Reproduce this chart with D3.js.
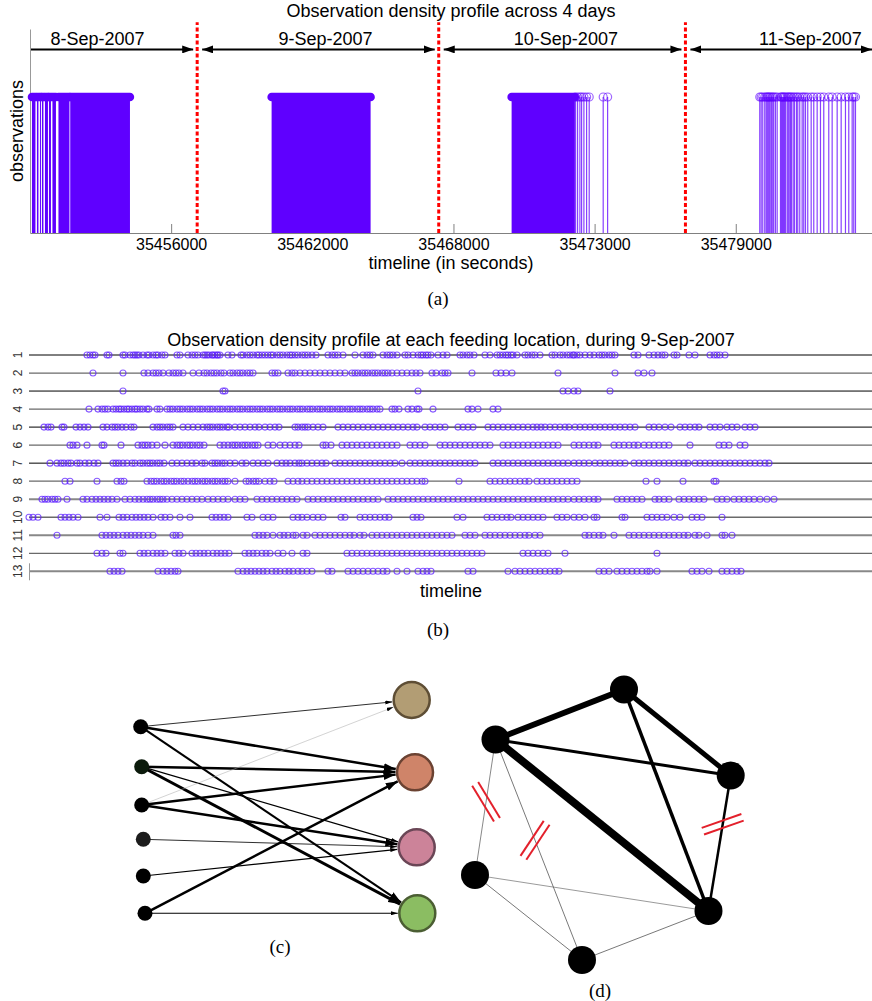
<!DOCTYPE html>
<html>
<head>
<meta charset="utf-8">
<script src="https://cdn.jsdelivr.net/npm/d3@7"></script>
<style>
  html, body { margin: 0; padding: 0; background: #fff; }
  svg { display: block; }
  text { font-family: "Liberation Sans", Arial, sans-serif; }
  .cap { font-family: "Liberation Serif", "Times New Roman", serif; font-size: 19px; }
</style>
</head>
<body>
<svg id="fig" width="872" height="1001"></svg>
<script>
// ---------- (a) observations across 4 days, timeline in seconds
const timeDomain = [35450250, 35484550];
const tickValues = [35456000, 35461750, 35467500, 35473250, 35479000];
const tickLabels = ['35456000', '35462000', '35468000', '35473000', '35479000'];
const days = ['8-Sep-2007', '9-Sep-2007', '10-Sep-2007', '11-Sep-2007'];
const dayLabelAt = [35453000, 35462290, 35472080, 35482040];
const dayBreaks = [35457060, 35466900, 35476950];
// dense runs of observations [start, end]
const bursts = [
  [35450329, 35450472], [35450533, 35450594], [35450655, 35450696], [35450736, 35450797],
  [35450859, 35450981], [35451022, 35451103], [35451164, 35451307], [35451409, 35451857],
  [35451889, 35454322], [35460092, 35464125], [35469869, 35472447]
];
// isolated observations
const stems = [
  35472476, 35472557, 35472651, 35472720, 35472814, 35472924, 35473030, 35473600, 35473780,
  35479978, 35480035, 35480100, 35480181, 35480238, 35480279, 35480320, 35480361, 35480401,
  35480454, 35480507, 35480548, 35480617, 35480687, 35480821, 35480862, 35480903, 35480943,
  35480984, 35481025, 35481094, 35481135, 35481176, 35481228, 35481269, 35481338, 35481391,
  35481473, 35481526, 35481607, 35481705, 35481770, 35481840, 35481933, 35482072, 35482178,
  35482316, 35482451, 35482585, 35482789, 35482927, 35483131, 35483294, 35483469, 35483604,
  35483742, 35483807, 35483877
];

// ---------- (b) observations per feeding location during 9-Sep-2007
const locations = ['1', '2', '3', '4', '5', '6', '7', '8', '9', '10', '11', '12', '13'];
const loc1 = [58,61,64,66,78,80,94,96,101,104,106,108,110,114,118,120,124,127,129,133,136,148,151,159,163,166,169,174,176,178,180,183,184,186,188,189,191,199,203,212,214,218,221,224,228,230,233,236,239,242,244,248,251,254,258,261,263,266,269,273,276,279,283,287,299,303,306,309,314,326,334,338,341,344,354,358,361,364,368,376,379,384,389,392,394,397,399,402,409,414,418,431,434,438,441,445,456,461,468,471,474,477,479,482,484,488,496,499,503,506,511,523,526,531,534,538,541,544,545,548,551,556,561,565,570,573,576,580,583,586,605,609,620,625,629,633,636,645,648,660,666,681,685,688,691,696];
const loc2 = [64,94,115,119,124,127,130,134,140,144,147,150,154,164,170,175,178,182,185,188,192,195,201,204,208,211,214,218,221,224,243,246,249,259,263,266,271,276,281,286,291,296,301,306,311,316,323,326,329,333,336,339,343,346,349,353,356,359,363,368,373,378,383,387,391,403,407,413,416,419,443,467,472,477,483,529,586,609,615,623];
const loc3 = [94,194,196,389,534,539,545,549,581];
const loc4 = [60,69,73,76,79,84,87,90,92,95,98,100,103,106,108,111,114,118,120,128,131,138,141,144,148,151,154,158,161,164,168,171,174,178,181,184,188,191,194,198,201,204,208,211,214,218,221,224,228,231,234,238,241,244,248,251,254,258,261,264,268,271,274,278,281,284,288,291,294,298,301,304,308,311,314,318,321,324,328,331,334,338,341,344,348,351,363,366,370,379,383,388,390,404,439,443,449,464,469];
const loc5 = [15,19,22,33,35,47,51,55,59,74,78,83,86,89,93,97,102,105,124,128,131,134,138,141,144,154,159,164,169,174,178,181,184,188,191,194,198,200,206,211,216,221,226,230,236,241,246,250,266,269,273,276,279,284,289,294,309,314,319,324,329,334,339,344,349,354,359,364,369,374,379,384,388,396,401,406,411,416,429,434,439,444,459,464,469,474,479,484,489,494,499,504,508,512,516,521,526,531,536,540,546,551,556,561,566,571,576,581,586,591,596,601,606,620,625,630,636,642,651,656,661,666,670,681,686,691,698,703,708,716,721,726];
const loc6 = [41,44,48,58,73,75,92,109,113,116,119,123,128,136,144,148,151,154,158,161,164,168,171,175,191,195,199,203,206,209,213,216,219,223,226,229,239,244,251,256,261,266,270,294,297,302,313,318,323,328,333,338,343,348,353,358,363,368,381,386,391,396,411,416,421,426,431,436,441,446,451,456,461,474,479,484,489,494,499,504,509,514,519,524,529,545,550,555,560,565,569,585,590,595,600,605,609,615,620,625,630,635,640,661,690,695,700,711,716];
const loc7 = [21,28,32,35,39,42,48,51,56,60,65,69,84,87,90,94,98,103,106,111,114,118,121,124,128,131,135,143,148,153,158,163,167,173,176,183,186,189,193,196,201,206,213,217,224,229,234,239,248,253,257,261,266,270,273,278,283,288,293,297,306,311,316,321,326,331,336,341,346,351,356,361,366,373,381,386,391,396,401,406,411,416,421,426,431,436,441,446,464,469,474,479,484,489,494,499,504,509,514,519,524,529,534,539,545,550,555,560,566,571,576,581,586,591,596,605,610,615,620,625,630,635,640,645,650,655,659,666,671,676,681,686,691,696,701,706,711,716,721,726,731,736,740];
const loc8 = [36,41,68,88,92,95,118,122,125,128,132,135,138,142,145,148,152,155,159,163,166,169,173,176,179,183,186,189,193,196,199,206,217,220,224,227,230,236,241,245,259,264,269,273,278,283,288,293,298,303,308,313,318,323,328,333,338,343,348,353,358,363,368,373,378,383,388,393,396,430,461,466,471,476,481,486,491,496,500,508,513,518,523,528,533,538,543,548,617,628,654,685,687];
const loc9 = [13,16,19,23,26,29,38,54,58,63,67,71,75,79,83,88,96,101,106,110,114,118,121,124,128,131,134,138,143,148,153,158,163,168,173,179,184,189,194,199,206,211,216,228,233,238,243,248,253,258,263,268,279,284,289,294,299,304,309,314,319,324,329,334,339,344,349,359,364,369,374,379,384,389,394,399,404,409,414,419,424,429,434,439,444,449,454,459,464,469,474,479,484,489,494,499,504,509,514,519,524,529,534,539,545,550,555,560,565,569,588,593,598,603,608,613,626,630,635,640,650,655,660,665,670,675,688,693,698,705,710,715,720,725,731,738,745];
const loc10 = [0,4,9,32,36,40,44,49,71,78,90,94,98,103,107,111,115,119,124,132,136,141,151,161,183,187,191,195,199,218,223,234,239,244,264,269,273,278,284,289,294,312,316,331,336,341,346,351,356,360,384,388,392,428,434,458,463,468,473,478,482,489,494,499,504,509,514,528,533,538,545,550,556,565,568,593,596,618,623,628,633,638,645,651,663,668,673,693];
const loc11 = [28,73,77,81,85,89,94,98,102,106,110,114,119,124,144,147,151,226,230,234,238,244,251,255,259,264,267,274,278,286,291,296,301,306,311,316,321,325,331,335,343,348,353,358,363,368,373,378,383,388,393,398,403,408,413,418,423,436,441,446,456,461,466,471,476,481,486,491,496,500,506,511,556,560,565,570,574,585,600,605,610,615,620,625,630,635,640,645,650,655,659,666,670,678,693,696,703];
const loc12 = [68,73,77,91,94,111,115,119,124,128,132,136,146,150,154,163,167,171,175,179,184,188,192,196,200,216,220,224,228,233,237,241,249,254,263,274,278,318,323,328,333,338,343,348,353,358,363,368,373,378,383,388,393,398,403,408,413,418,423,428,433,438,443,448,453,494,499,504,509,514,519,536,628];
const loc13 = [81,85,89,93,129,134,138,142,146,149,209,214,218,222,226,230,234,238,243,247,251,256,260,264,269,273,278,283,299,303,319,324,329,334,339,344,349,354,358,368,378,389,394,398,402,439,444,479,486,491,496,501,506,511,516,521,526,530,570,575,580,588,593,598,603,608,613,618,621,628,663,668,673,680,693,698,703,708,712];
const locObs = [loc1, loc2, loc3, loc4, loc5, loc6, loc7, loc8, loc9, loc10, loc11, loc12, loc13];

// ---------- (c) individuals -> feeding locations (layout units)
const cLeftX = [1.07, 1.17, 1.17, 1.33, 1.33, 1.5];
const cLeftY = [3.67, 7.67, 11.5, 14.93, 18.6, 22.33];
const cRightX = [28.17, 28.5, 28.67, 28.73];
const cRightY = [1.0, 8.23, 15.73, 22.33];
// [individual, location, weight]
const cEdges = [[0,0,1],[0,1,5],[0,3,4],[1,1,5],[1,2,2],[1,3,6],[2,0,0.3],[2,1,5],[2,2,5],[3,2,1],[4,2,2],[5,1,5],[5,3,1.5]];

// ---------- (d) location graph (layout units)
const dX = [17.4, 4.55, 28.07, 2.5, 25.85, 13.2];
const dY = [0.95, 5.95, 9.55, 19.5, 23.1, 28.0];
// [a, b, weight]
const dEdges = [[0,1,12],[0,2,10],[0,4,7],[1,2,6],[1,4,16],[2,4,5],[1,3,1.4],[1,5,1.6],[3,4,1.2],[3,5,1.6],[4,5,1.6]];
// cut marks: [a, b, position along edge, angle in degrees]
const dCuts = [[1,3,0.46,58.7],[1,5,0.457,-56.4],[2,4,0.36,-19.3]];

const svg = d3.select('#fig');
const purple = '#5f00ff';
const defs = svg.append('defs');

function addHead(id, w, h) {
  defs.append('marker')
    .attr('id', id)
    .attr('viewBox', '0 0 ' + w + ' ' + h)
    .attr('refX', w).attr('refY', h / 2)
    .attr('markerWidth', w).attr('markerHeight', h)
    .attr('markerUnits', 'userSpaceOnUse')
    .attr('orient', 'auto-start-reverse')
    .append('path')
    .attr('d', 'M0,0L' + w + ',' + (h / 2) + 'L0,' + h + 'Z')
    .attr('fill', '#000');
}
addHead('headA', 11, 8);
addHead('headBig', 12, 8);
addHead('headSmall', 7, 4);

// ================= panel (a)
const xA = d3.scaleLinear().domain(timeDomain).range([30, 872]);
const yA = d3.scaleLinear().domain([0, 1.5]).range([233, 29]);
const gA = svg.append('g');

const axA = gA.append('g')
  .attr('transform', 'translate(0,' + yA(0) + ')')
  .call(d3.axisBottom(xA).tickValues(tickValues)
    .tickFormat((d, i) => tickLabels[i])
    .tickSizeInner(-9).tickSizeOuter(0).tickPadding(6));
axA.attr('font-family', '"Liberation Sans", Arial, sans-serif').attr('font-size', 16);
axA.selectAll('path, line').attr('stroke', '#808080');
axA.selectAll('text').attr('fill', '#000');

gA.append('g')
  .attr('transform', 'translate(' + xA(timeDomain[0]) + ',0)')
  .call(d3.axisLeft(yA).tickValues([]).tickSizeOuter(0))
  .select('path').attr('stroke', '#999');

// dense runs: filled block plus a row of overlapping markers on top
gA.selectAll('rect.burst').data(bursts).join('rect')
  .attr('class', 'burst')
  .attr('x', d => xA(d[0]))
  .attr('width', d => Math.max(1, xA(d[1]) - xA(d[0])))
  .attr('y', yA(1))
  .attr('height', yA(0) - yA(1))
  .attr('fill', purple);
gA.selectAll('line.top').data(bursts).join('line')
  .attr('class', 'top')
  .attr('x1', d => xA(d[0])).attr('x2', d => xA(d[1]))
  .attr('y1', yA(1)).attr('y2', yA(1))
  .attr('stroke', purple).attr('stroke-width', 8.5)
  .attr('stroke-linecap', 'round');

const st = gA.selectAll('g.stem').data(stems).join('g').attr('class', 'stem');
st.append('line')
  .attr('x1', d => xA(d)).attr('x2', d => xA(d))
  .attr('y1', yA(0)).attr('y2', yA(1))
  .attr('stroke', purple).attr('stroke-opacity', 0.75).attr('stroke-width', 1.2);
st.append('circle')
  .attr('cx', d => xA(d)).attr('cy', yA(1)).attr('r', 4)
  .attr('fill', 'none').attr('stroke', purple)
  .attr('stroke-opacity', 0.6).attr('stroke-width', 1.2);

gA.selectAll('line.brk').data(dayBreaks).join('line')
  .attr('class', 'brk')
  .attr('x1', d => xA(d)).attr('x2', d => xA(d))
  .attr('y1', yA(0)).attr('y2', yA(1.55))
  .attr('stroke', '#ff0000').attr('stroke-width', 3)
  .attr('stroke-dasharray', '4,2.5');

const bounds = [timeDomain[0]].concat(dayBreaks, [timeDomain[1]]);
days.forEach((d, i) => {
  const a = xA(bounds[i]) + (i === 0 ? 1 : 5);
  const b = xA(bounds[i + 1]) - (i === days.length - 1 ? 0 : 4);
  const ln = gA.append('line')
    .attr('x1', a).attr('x2', b)
    .attr('y1', yA(1.35)).attr('y2', yA(1.35))
    .attr('stroke', '#000').attr('stroke-width', 2)
    .attr('marker-end', 'url(#headA)');
  if (i > 0) ln.attr('marker-start', 'url(#headA)');
  gA.append('text')
    .attr('x', xA(dayLabelAt[i])).attr('y', yA(1.382))
    .attr('text-anchor', 'middle').attr('font-size', 18)
    .text(d);
});

gA.append('text').attr('x', 451).attr('y', 17)
  .attr('text-anchor', 'middle').attr('font-size', 18)
  .text('Observation density profile across 4 days');
gA.append('text').attr('x', 451).attr('y', 269)
  .attr('text-anchor', 'middle').attr('font-size', 18)
  .text('timeline (in seconds)');
gA.append('text')
  .attr('transform', 'translate(23,' + ((yA(0) + yA(1.5)) / 2) + ') rotate(-90)')
  .attr('text-anchor', 'middle').attr('font-size', 18)
  .text('observations');
svg.append('text').attr('class', 'cap').attr('x', 438).attr('y', 305)
  .attr('text-anchor', 'middle').text('(a)');

// ================= panel (b)
const xB = d3.scaleLinear().domain([0, 843]).range([29, 872]);
const yB = d3.scalePoint().domain(locations).range([355, 571.3]);
const gB = svg.append('g');

gB.selectAll('line.row').data(locations).join('line')
  .attr('class', 'row')
  .attr('x1', xB(0)).attr('x2', xB(843))
  .attr('y1', d => yB(d)).attr('y2', d => yB(d))
  .attr('stroke', (d, i) => i % 2 === 0 && i < 7 ? '#000' : (i >= 8 && i % 2 === 0 ? '#888' : '#6a6a6a'))
  .attr('stroke-width', (d, i) => i >= 8 && i % 2 === 0 ? 2 : (i % 2 === 0 && i < 7 ? 1 : 1.3));

gB.append('line')
  .attr('x1', xB(0) + 0.5).attr('x2', xB(0) + 0.5)
  .attr('y1', yB('13') - 8).attr('y2', yB('13') + 9)
  .attr('stroke', '#999');

gB.selectAll('text.loc').data(locations).join('text')
  .attr('class', 'loc')
  .attr('transform', d => 'translate(22,' + yB(d) + ') rotate(-90)')
  .attr('text-anchor', 'middle').attr('font-size', 12).attr('fill', '#333')
  .text(d => d);

locObs.forEach((obs, i) => {
  gB.append('g').selectAll('circle').data(obs).join('circle')
    .attr('cx', d => xB(d)).attr('cy', yB(locations[i])).attr('r', 3)
    .attr('fill', 'none').attr('stroke', '#5a1cff')
    .attr('stroke-opacity', 0.72).attr('stroke-width', 1.1);
});

gB.append('text').attr('x', 451).attr('y', 346)
  .attr('text-anchor', 'middle').attr('font-size', 18)
  .text('Observation density profile at each feeding location, during 9-Sep-2007');
gB.append('text').attr('x', 451).attr('y', 597)
  .attr('text-anchor', 'middle').attr('font-size', 18)
  .text('timeline');
svg.append('text').attr('class', 'cap').attr('x', 438).attr('y', 636)
  .attr('text-anchor', 'middle').text('(b)');

// ================= panel (c)
const xC = d3.scaleLinear().domain([0, 30]).range([130, 430]);
const yC = d3.scaleLinear().domain([0, 30]).range([690, 990]);
const gC = svg.append('g');
const rLeft = 7.5, rRight = 18;
const rightFill = ['#b29d74', '#cf8469', '#cc8399', '#8bbd62'];
const rightStroke = ['#5e4e35', '#6b4232', '#6a4656', '#4b5e33'];
const leftFill = ['#000', '#0b1a0b', '#000', '#1c1c1c', '#000', '#000'];
const cWidth = w => 0.4 + 0.42 * w;

gC.selectAll('line.edge').data(cEdges).join('line')
  .attr('class', 'edge')
  .each(function (d) {
    const x1 = xC(cLeftX[d[0]]), y1 = yC(cLeftY[d[0]]);
    const cx = xC(cRightX[d[1]]), cy = yC(cRightY[d[1]]);
    const len = Math.hypot(cx - x1, cy - y1);
    const k = (len - rRight - 1.5) / len;
    d3.select(this)
      .attr('x1', x1).attr('y1', y1)
      .attr('x2', x1 + (cx - x1) * k).attr('y2', y1 + (cy - y1) * k);
  })
  .attr('stroke', d => d[2] < 0.5 ? '#aaa' : '#000')
  .attr('stroke-width', d => cWidth(d[2]))
  .attr('marker-end', d => cWidth(d[2]) >= 1.8 ? 'url(#headBig)' : 'url(#headSmall)');

gC.selectAll('circle.left').data(cLeftX).join('circle')
  .attr('class', 'left')
  .attr('cx', d => xC(d)).attr('cy', (d, i) => yC(cLeftY[i])).attr('r', rLeft)
  .attr('fill', (d, i) => leftFill[i]);
gC.selectAll('circle.right').data(cRightX).join('circle')
  .attr('class', 'right')
  .attr('cx', d => xC(d)).attr('cy', (d, i) => yC(cRightY[i])).attr('r', rRight)
  .attr('fill', (d, i) => rightFill[i])
  .attr('stroke', (d, i) => rightStroke[i]).attr('stroke-width', 2.5);
svg.append('text').attr('class', 'cap').attr('x', 280).attr('y', 953)
  .attr('text-anchor', 'middle').text('(c)');

// ================= panel (d)
const xD = d3.scaleLinear().domain([0, 30]).range([450, 750]);
const yD = d3.scaleLinear().domain([0, 30]).range([680, 980]);
const gD = svg.append('g');

gD.selectAll('line.edge').data(dEdges).join('line')
  .attr('class', 'edge')
  .attr('x1', d => xD(dX[d[0]])).attr('y1', d => yD(dY[d[0]]))
  .attr('x2', d => xD(dX[d[1]])).attr('y2', d => yD(dY[d[1]]))
  .attr('stroke', d => d[2] < 2 ? '#555' : '#000')
  .attr('stroke-width', d => d[2] / 2);

dCuts.forEach(c => {
  const ax = xD(dX[c[0]]), ay = yD(dY[c[0]]);
  const bx = xD(dX[c[1]]), by = yD(dY[c[1]]);
  const mx = ax + (bx - ax) * c[2], my = ay + (by - ay) * c[2];
  const t = c[3] * Math.PI / 180;
  const ux = Math.cos(t), uy = Math.sin(t);
  [-3.5, 3.5].forEach(off => {
    const ox = -uy * off, oy = ux * off;
    gD.append('line')
      .attr('x1', mx + ox - ux * 21).attr('y1', my + oy - uy * 21)
      .attr('x2', mx + ox + ux * 21).attr('y2', my + oy + uy * 21)
      .attr('stroke', '#e3202b').attr('stroke-width', 2);
  });
});

gD.selectAll('circle').data(dX).join('circle')
  .attr('cx', d => xD(d)).attr('cy', (d, i) => yD(dY[i])).attr('r', 14)
  .attr('fill', '#000');
svg.append('text').attr('class', 'cap').attr('x', 600).attr('y', 997)
  .attr('text-anchor', 'middle').text('(d)');
</script>
</body>
</html>
